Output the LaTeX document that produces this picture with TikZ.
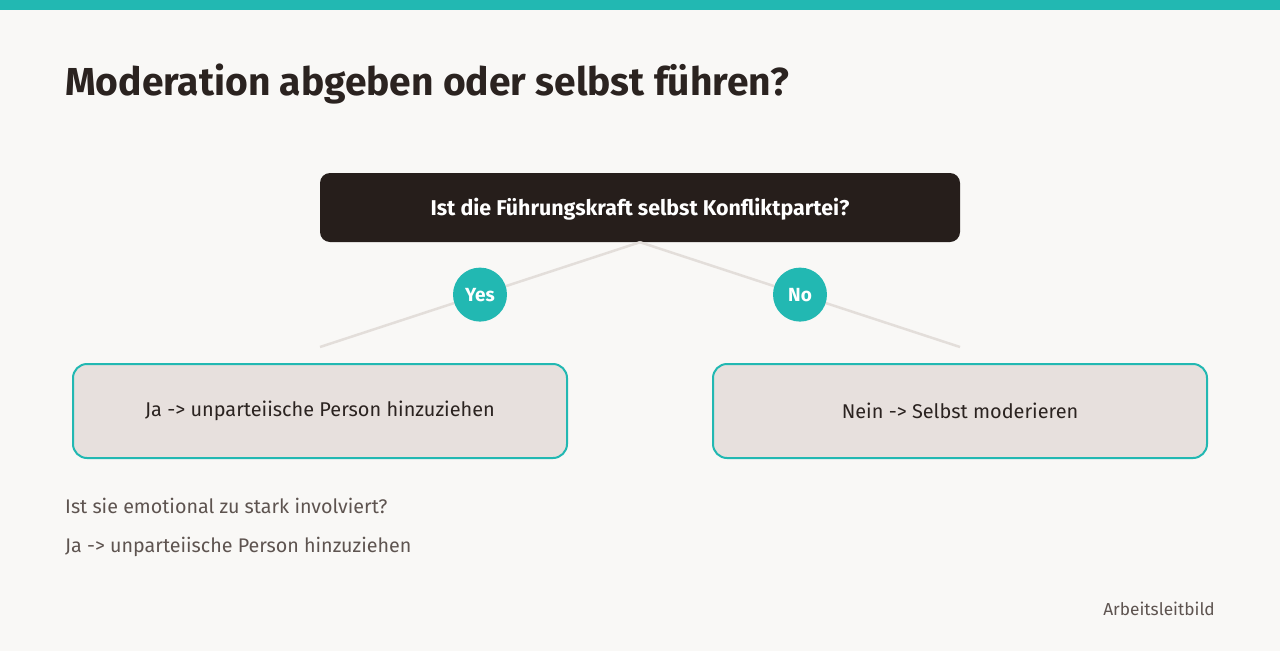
\documentclass[tikz,border=0pt]{standalone}
\usepackage{fontspec}
\usetikzlibrary{calc}
\setmainfont{Fira Sans}
\definecolor{bg}{HTML}{F9F8F6}
\definecolor{teal}{HTML}{22B8B2}
\definecolor{dark}{HTML}{261E1B}
\definecolor{boxfill}{HTML}{E7E0DD}
\definecolor{linegrey}{HTML}{E3DEDA}
\definecolor{txt}{HTML}{2B2320}
\definecolor{muted}{HTML}{5E5450}
\tikzset{
  qbox/.style={fill=dark, rounded corners=10pt, minimum width=640pt, minimum height=69pt, text=white, font=\fontsize{21.4}{25}\selectfont\bfseries, inner sep=0pt},
  abox/.style={fill=boxfill, draw=teal, line width=2pt, rounded corners=14pt, minimum width=494pt, minimum height=94pt, text=txt, font=\fontsize{19.9}{23}\selectfont, inner sep=0pt},
  badge/.style={circle, fill=teal, minimum size=54pt, inner sep=0pt, text=white, font=\fontsize{19}{23}\selectfont\bfseries},
  conn/.style={draw=linegrey, line width=2.5pt},
  note/.style={text=muted, font=\fontsize{19.7}{23}\selectfont, inner sep=0pt, anchor=west}
}
\begin{document}
\begin{tikzpicture}[x=1pt,y=-1pt]
\useasboundingbox (0,0) rectangle (1280,651);
\fill[bg] (0,0) rectangle (1280,651);
\fill[teal] (0,0) rectangle (1280,10);
\node[anchor=base west, inner sep=0pt, text=txt, font=\fontsize{39}{47}\selectfont\bfseries] (title) at (65,95) {Moderation abgeben oder selbst führen?};
\node[qbox] (q) at (640,207.5) {};
\node[text=white, font=\fontsize{21.4}{25}\selectfont\bfseries, inner sep=0pt] (qt) at (640,209.5) {Ist die Führungskraft selbst Konfliktpartei?};
\coordinate (ya) at (320,347);
\coordinate (na) at (960,347);
\draw[conn] (q.south) -- (ya);
\draw[conn] (q.south) -- (na);
\node[badge] (yes) at ($(q.south)!0.5!(ya)$) {Yes};
\node[badge] (no) at ($(q.south)!0.5!(na)$) {No};
\node[abox] (a1) at (320,411) {Ja -> unparteiische Person hinzuziehen};
\node[abox] (a2) at (960,411) {Nein -> Selbst moderieren};
\node[note] (n1) at (65,506) {Ist sie emotional zu stark involviert?};
\node[note] (n2) at (65,546.5) {Ja -> unparteiische Person hinzuziehen};
\node[anchor=east, inner sep=0pt, text=muted, font=\fontsize{17.3}{20}\selectfont] (brand) at (1215,609) {Arbeitsleitbild};
\end{tikzpicture}
\end{document}
